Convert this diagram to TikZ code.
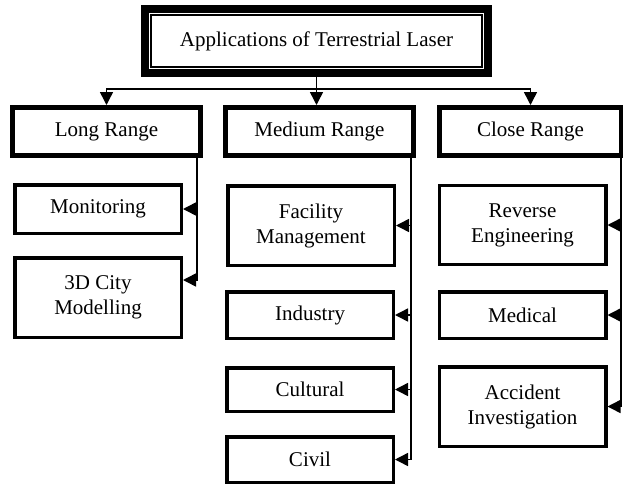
\documentclass[tikz,border=0pt]{standalone}
\usepackage{fontspec}
\setmainfont{Liberation Serif}
\usetikzlibrary{arrows.meta}

\tikzstyle{root} = [rectangle, minimum width=343pt, minimum height=64pt, text centered, draw=black, line width=8pt]
\tikzstyle{cat} = [rectangle, minimum width=188pt, minimum height=48pt, text centered, draw=black, line width=5pt]
\tikzstyle{leaf} = [rectangle, minimum width=166.5pt, minimum height=46.5pt, align=center, draw=black, line width=3.5pt]
\tikzstyle{link} = [line width=1.5pt, -{Triangle[length=13pt,width=13pt]}]

\begin{document}
\begin{tikzpicture}[x=1pt, y=1pt, font=\fontsize{21}{25}\selectfont]
        \useasboundingbox (0,0) rectangle (623,-485);
        \node (apps) [root] at (316.5,-41) {Applications of Terrestrial Laser};
        \draw [line width=1.5pt] ([shift={(10pt,-10pt)}]apps.north west) rectangle ([shift={(-10pt,10pt)}]apps.south east);

        \node (long) [cat] at (106.5,-131.5) {Long Range};
        \node (medium) [cat] at (319.5,-131.5) {Medium Range};
        \node (close) [cat, minimum width=182pt] at (530.5,-131.5) {Close Range};

        \node (monitor) [leaf, minimum height=48.5pt] at (98,-209) {Monitoring};
        \node (city) [leaf, minimum height=79.5pt] at (98,-297.5) {3D City\\Modelling};
        \node (facility) [leaf, minimum height=79.5pt] at (311,-225.5) {Facility\\Management};
        \node (industry) [leaf] at (310,-315) {Industry};
        \node (cultural) [leaf, minimum height=43.5pt] at (310,-389.5) {Cultural};
        \node (civil) [leaf, minimum height=45.5pt] at (310,-459.5) {Civil};
        \node (reverse) [leaf, minimum height=79pt] at (522.5,-225) {Reverse\\Engineering};
        \node (medical) [leaf] at (522.5,-315) {Medical};
        \node (accident) [leaf, minimum height=79.5pt] at (522.5,-406.5) {Accident\\Investigation};

        \draw [link] (apps.south) -- (apps.south |- medium.north);
        \draw [link] ([yshift=-12pt]apps.south) -| (long.north);
        \draw [link] ([yshift=-12pt]apps.south) -| (close.north);

        \draw [link] ([xshift=-6pt]long.south east) |- (monitor.east);
        \draw [link] ([xshift=-6pt]long.south east) |- ([yshift=17.5pt]city.east);

        \draw [link] ([xshift=-5pt]medium.south east) |- (facility.east);
        \draw [link] ([xshift=-5pt]medium.south east) |- (industry.east);
        \draw [link] ([xshift=-5pt]medium.south east) |- (cultural.east);
        \draw [link] ([xshift=-5pt]medium.south east) |- (civil.east);

        \draw [link] ([xshift=-3pt]close.south east) |- (reverse.east);
        \draw [link] ([xshift=-3pt]close.south east) |- (medical.east);
        \draw [link] ([xshift=-3pt]close.south east) |- (accident.east);
    \end{tikzpicture}
\end{document}
